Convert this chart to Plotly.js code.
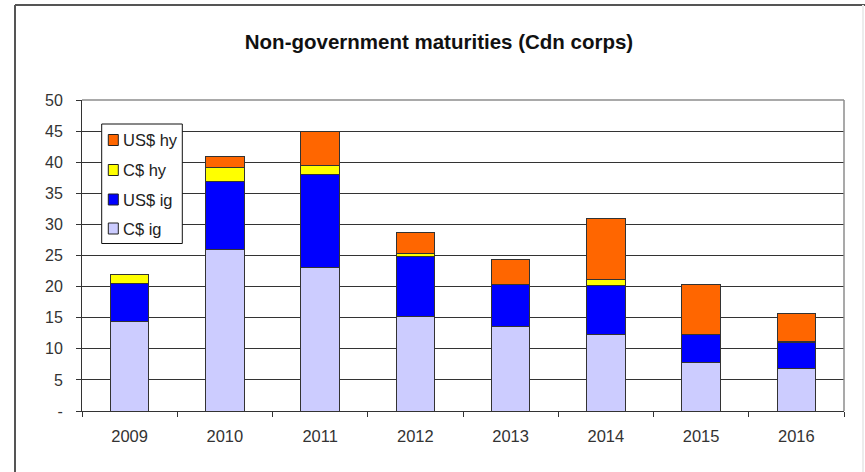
<!DOCTYPE html>
<html>
<head>
<meta charset="utf-8">
<script src="https://cdn.plot.ly/plotly-3.0.1.min.js"></script>
<style>html,body{margin:0;padding:0;background:#fff;}#chart{width:865px;height:472px;}</style>
</head>
<body>
<div id="chart"></div>
<script>
const years = ['2009', '2010', '2011', '2012', '2013', '2014', '2015', '2016'];
const cIg  = [14.4, 25.9, 23.1, 15.2, 13.6, 12.3, 7.8, 6.8];
const usIg = [6.1, 11.0, 15.0, 9.6, 6.7, 7.8, 4.5, 4.2];
const cHy  = [1.4, 2.2, 1.3, 0.5, 0.1, 1.0, 0.0, 0.1];
const usHy = [0.0, 1.8, 5.5, 3.4, 4.0, 9.8, 8.0, 4.5];
const yTickVals = [0, 5, 10, 15, 20, 25, 30, 35, 40, 45, 50];
const yTickText = ['-', '5', '10', '15', '20', '25', '30', '35', '40', '45', '50'];

const seriesNames = ['C$ ig', 'US$ ig', 'C$ hy', 'US$ hy'];
const seriesVals = [cIg, usIg, cHy, usHy];
const seriesColors = ['#ccccff', '#0000ff', '#ffff00', '#ff6600'];

const FONT = '"Liberation Sans", Arial, sans-serif';

const traces = seriesNames.map((n, i) => ({
  type: 'bar', name: n, x: years, y: seriesVals[i],
  marker: {color: seriesColors[i], line: {color: '#333333', width: 1}},
  hoverinfo: 'x+y+name', showlegend: false
}));

// pixel helpers (paper coordinates from page pixels)
const L = 82, R = 21, T = 100, B = 61, W = 865, H = 472;
const pw = W - L - R, ph = H - T - B;
const px = v => (v - L) / pw;
const py = v => (H - B - v) / ph;

const shapes = [
  // plot area top and right border (gray)
  {type: 'line', xref: 'paper', yref: 'paper', x0: 0, x1: 1, y0: 1, y1: 1, line: {color: '#8c8c8c', width: 1.5}},
  {type: 'line', xref: 'paper', yref: 'paper', x0: 1, x1: 1, y0: 0, y1: 1, line: {color: '#8c8c8c', width: 1.5}},
  // outer frame
  {type: 'line', xref: 'paper', yref: 'paper', x0: px(15), x1: px(15), y0: py(5), y1: py(472), line: {color: '#555555', width: 2}},
  {type: 'line', xref: 'paper', yref: 'paper', x0: px(15), x1: px(865), y0: py(5), y1: py(5), line: {color: '#555555', width: 2}},
  {type: 'line', xref: 'paper', yref: 'paper', x0: px(863), x1: px(863), y0: py(5), y1: py(472), line: {color: '#ececec', width: 2}},
  // legend box
  {type: 'rect', xref: 'paper', yref: 'paper', x0: px(101.7), x1: px(182.3), y0: py(124), y1: py(243.5),
   fillcolor: '#ffffff', line: {color: '#111111', width: 1}}
];
const annotations = [];
// legend entries, top-down in reverse stacking order
const legendRowY = [140, 170, 199.5, 228.5];
for (let k = 0; k < seriesNames.length; k++) {
  const i = seriesNames.length - 1 - k;
  const cy = legendRowY[k];
  shapes.push({type: 'rect', xref: 'paper', yref: 'paper',
    x0: px(108.3), x1: px(118.3), y0: py(cy - 5.5), y1: py(cy + 5.5),
    fillcolor: seriesColors[i], line: {color: '#222222', width: 1}});
  annotations.push({xref: 'paper', yref: 'paper', x: px(121), y: py(cy),
    xanchor: 'left', yanchor: 'middle', showarrow: false, text: seriesNames[i],
    font: {family: FONT, size: 16.5, color: '#222222'}});
}

const layout = {
  width: W, height: H,
  margin: {l: L, r: R, t: T, b: B, pad: 0},
  paper_bgcolor: '#ffffff', plot_bgcolor: '#ffffff',
  barmode: 'stack', bargap: 0.595,
  font: {family: FONT, color: '#222222', size: 15},
  title: {
    text: '<b>Non-government maturities (Cdn corps)</b>',
    font: {family: FONT, size: 20.5, color: '#111111'},
    x: 439 / W, xanchor: 'center', y: 1 - 42 / H, yanchor: 'middle'
  },
  xaxis: {
    type: 'category', tickson: 'boundaries', ticks: 'outside', ticklen: 5,
    tickcolor: '#333333', tickwidth: 1,
    showline: true, linecolor: '#333333', linewidth: 1,
    showgrid: false, zeroline: false,
    tickfont: {family: FONT, size: 16.5, color: '#333333'},
    ticklabelstandoff: 10
  },
  yaxis: {
    range: [0, 50], tickmode: 'array', tickvals: yTickVals, ticktext: yTickText,
    ticks: 'outside', ticklen: 5, tickcolor: '#333333', tickwidth: 1,
    showline: true, linecolor: '#333333', linewidth: 1,
    showgrid: true, gridcolor: '#333333', gridwidth: 1, zeroline: false,
    tickfont: {family: FONT, size: 16, color: '#333333'},
    ticklabelstandoff: 10
  },
  showlegend: false,
  shapes: shapes,
  annotations: annotations
};

Plotly.newPlot('chart', traces, layout, {displayModeBar: false, staticPlot: true});
</script>
</body>
</html>
